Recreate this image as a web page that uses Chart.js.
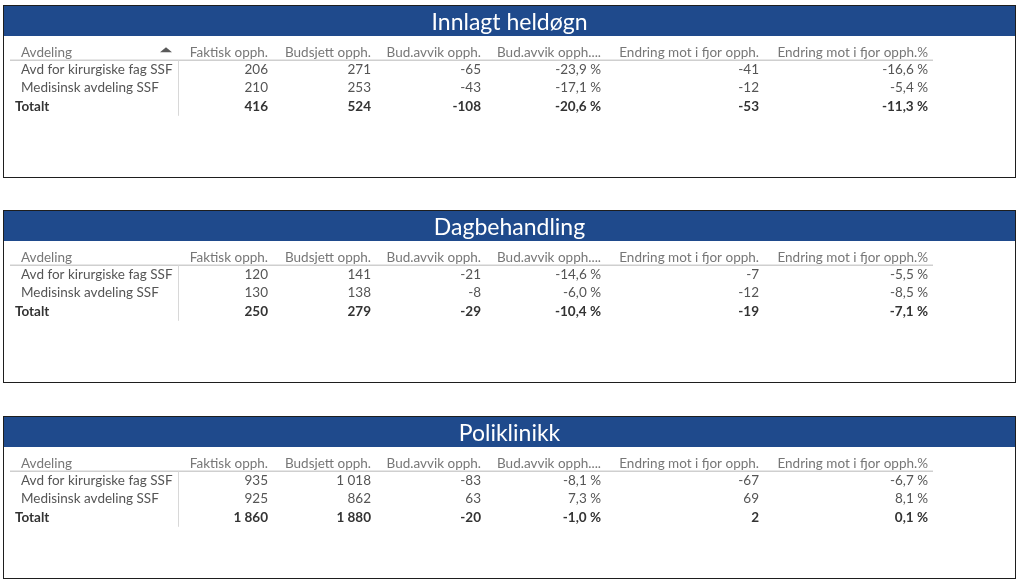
<!DOCTYPE html>
<html>
<head>
<meta charset="utf-8">
<script src="https://cdn.jsdelivr.net/npm/chart.js@4/dist/chart.umd.min.js"></script>
<style>
  html, body { margin: 0; padding: 0; background: #ffffff; width: 1024px; height: 586px; overflow: hidden; }
  .panel { position: absolute; left: 3px; width: 1013px; box-sizing: border-box; border: 1px solid #1e1e1e; background: #fff; }
  .panel canvas { display: block; }
</style>
</head>
<body>
<div class="panel" id="p0" style="top:5px;height:173px;"><canvas id="c0"></canvas></div>
<div class="panel" id="p1" style="top:210px;height:173px;"><canvas id="c1"></canvas></div>
<div class="panel" id="p2" style="top:416px;height:163px;"><canvas id="c2"></canvas></div>
<script>
// ---------- DATA ----------
const panelTitles = ["Innlagt heldøgn", "Dagbehandling", "Poliklinikk"];
const rowHeaderLabel = "Avdeling";
const departments = ["Avd for kirurgiske fag SSF", "Medisinsk avdeling SSF"];
const totalLabel = "Totalt";
const columnHeaders = ["Faktisk opph.", "Budsjett opph.", "Bud.avvik opph.", "Bud.avvik opph....", "Endring mot i fjor opph.", "Endring mot i fjor opph.%"];
const percentColumns = [false, false, false, true, false, true];

// rows: [kirurgiske, medisinsk, totalt]
const innlagtFaktisk   = [206, 210, 416];
const innlagtBudsjett  = [271, 253, 524];
const innlagtAvvik     = [-65, -43, -108];
const innlagtAvvikPct  = [-23.9, -17.1, -20.6];
const innlagtEndring   = [-41, -12, -53];
const innlagtEndringPct= [-16.6, -5.4, -11.3];

const dagFaktisk   = [120, 130, 250];
const dagBudsjett  = [141, 138, 279];
const dagAvvik     = [-21, -8, -29];
const dagAvvikPct  = [-14.6, -6.0, -10.4];
const dagEndring   = [-7, -12, -19];
const dagEndringPct= [-5.5, -8.5, -7.1];

const poliFaktisk   = [935, 925, 1860];
const poliBudsjett  = [1018, 862, 1880];
const poliAvvik     = [-83, 63, -20];
const poliAvvikPct  = [-8.1, 7.3, -1.0];
const poliEndring   = [-67, 69, 2];
const poliEndringPct= [-6.7, 8.1, 0.1];

const panelValues = [
  [innlagtFaktisk, innlagtBudsjett, innlagtAvvik, innlagtAvvikPct, innlagtEndring, innlagtEndringPct],
  [dagFaktisk, dagBudsjett, dagAvvik, dagAvvikPct, dagEndring, dagEndringPct],
  [poliFaktisk, poliBudsjett, poliAvvik, poliAvvikPct, poliEndring, poliEndringPct]
];

// ---------- LAYOUT (not data) ----------
const columnRightEdge = [264, 367, 477, 597, 755, 924]; // on x scale (table units)
const layout = {
  bandHeight: 30,
  bandColor: "#1f4a8c",
  fontFamily: "Lato, 'Open Sans', sans-serif",
  fontSize: 13.5,
  titleSize: 23,
  labelLeft: 17,
  totalLeft: 11,
  ruleLeft: 6,
  ruleRight: 929,
  separatorX: 174,
  sortArrowX: 162,
  headerColor: "#777777",
  valueColor: "#555555",
  totalColor: "#333333",
  ruleColor: "#cfcfcf",
  areaTop: 35.8,
  rowPitch: 18.5,
  headerShift: 1.2
};

function fmtNumber(v, pct) {
  const neg = v < 0;
  let a = Math.abs(v);
  let s;
  if (pct) {
    s = a.toFixed(1).replace(".", ",") + " %";
  } else {
    s = String(Math.round(a)).replace(/\B(?=(\d{3})+(?!\d))/g, " ");
  }
  return (neg ? "-" : "") + s;
}

const tablePlugin = {
  id: "tablePlugin",
  beforeDraw(chart) {
    const ctx = chart.ctx;
    ctx.save();
    ctx.fillStyle = layout.bandColor;
    ctx.fillRect(0, 0, chart.width, layout.bandHeight);
    ctx.restore();
  },
  afterDatasetsDraw(chart, args, opts) {
    const ctx = chart.ctx;
    const xs = chart.scales.x, ys = chart.scales.y;
    const f = layout.fontFamily, fs = layout.fontSize;
    const yHeader = ys.getPixelForValue(0) + layout.headerShift;
    const yRule = ys.getPixelForValue(0.5);
    const nRows = ys.getLabels().length;
    ctx.save();
    ctx.textBaseline = "middle";
    // header rule
    ctx.strokeStyle = layout.ruleColor;
    ctx.lineWidth = 1.5;
    ctx.beginPath();
    ctx.moveTo(xs.getPixelForValue(layout.ruleLeft), yRule);
    ctx.lineTo(xs.getPixelForValue(layout.ruleRight), yRule);
    ctx.stroke();
    // vertical separator
    ctx.lineWidth = 1;
    ctx.strokeStyle = "#d8d8d8";
    const sx = Math.round(xs.getPixelForValue(layout.separatorX)) + 0.5;
    ctx.beginPath();
    ctx.moveTo(sx, yRule);
    ctx.lineTo(sx, ys.getPixelForValue(nRows - 1) + layout.rowPitch / 2);
    ctx.stroke();
    // headers
    ctx.font = fs + "px " + f;
    ctx.fillStyle = layout.headerColor;
    ctx.textAlign = "left";
    ctx.fillText(rowHeaderLabel, xs.getPixelForValue(layout.labelLeft), yHeader);
    ctx.textAlign = "right";
    columnHeaders.forEach((h, i) => {
      ctx.fillText(h, xs.getPixelForValue(columnRightEdge[i]), yHeader);
    });
    if (opts.sortArrow) {
      const ax = xs.getPixelForValue(layout.sortArrowX);
      ctx.fillStyle = "#5a5a5a";
      ctx.beginPath();
      ctx.moveTo(ax - 6, yHeader);
      ctx.lineTo(ax + 6, yHeader);
      ctx.lineTo(ax, yHeader - 5);
      ctx.closePath();
      ctx.fill();
    }
    // row labels
    ys.getLabels().forEach((lab, j) => {
      if (j === 0) return;
      const isTotal = j === nRows - 1;
      ctx.textAlign = "left";
      ctx.font = (isTotal ? "bold " : "") + fs + "px " + f;
      ctx.fillStyle = isTotal ? layout.totalColor : layout.valueColor;
      ctx.fillText(lab, xs.getPixelForValue(isTotal ? layout.totalLeft : layout.labelLeft), ys.getPixelForValue(j));
    });
    // cells from dataset elements
    chart.data.datasets.forEach((ds, i) => {
      const meta = chart.getDatasetMeta(i);
      meta.data.forEach((el, j) => {
        const raw = ds.data[j];
        const isTotal = j === ds.data.length - 1;
        ctx.textAlign = "right";
        ctx.font = (isTotal ? "bold " : "") + fs + "px " + f;
        ctx.fillStyle = isTotal ? layout.totalColor : layout.valueColor;
        ctx.fillText(fmtNumber(raw.v, ds.pct), el.x, el.y);
      });
    });
    ctx.restore();
  }
};

function makePanel(idx) {
  const canvas = document.getElementById("c" + idx);
  const holder = document.getElementById("p" + idx);
  const w = holder.clientWidth, h = holder.clientHeight;
  canvas.width = w; canvas.height = h;
  canvas.style.width = w + "px"; canvas.style.height = h + "px";
  const rowLabels = [rowHeaderLabel].concat(departments, [totalLabel]);
  const areaBottom = layout.areaTop + layout.rowPitch * rowLabels.length;
  const datasets = panelValues[idx].map((vals, i) => ({
    label: columnHeaders[i],
    pct: percentColumns[i],
    data: vals.map((v, j) => ({ x: columnRightEdge[i], y: rowLabels[j + 1], v: v })),
    pointRadius: 0,
    pointHoverRadius: 0,
    showLine: false
  }));
  new Chart(canvas, {
    type: "scatter",
    data: { datasets: datasets },
    plugins: [tablePlugin],
    options: {
      responsive: false,
      animation: false,
      events: [],
      layout: { padding: { left: 0, right: 0, top: 0, bottom: h - areaBottom } },
      scales: {
        x: { type: "linear", min: 0, max: w, display: false },
        y: { type: "category", labels: rowLabels, offset: true, display: false }
      },
      plugins: {
        legend: { display: false },
        tooltip: { enabled: false },
        title: {
          display: true,
          text: panelTitles[idx],
          color: "#ffffff",
          font: { family: layout.fontFamily, size: layout.titleSize, weight: "normal", lineHeight: 1.2 },
          padding: { top: 2.5, bottom: layout.areaTop - 2.5 - layout.titleSize * 1.2 }
        },
        tablePlugin: { sortArrow: idx === 0 }
      }
    }
  });
}
[0, 1, 2].forEach(makePanel);
</script>
</body>
</html>
